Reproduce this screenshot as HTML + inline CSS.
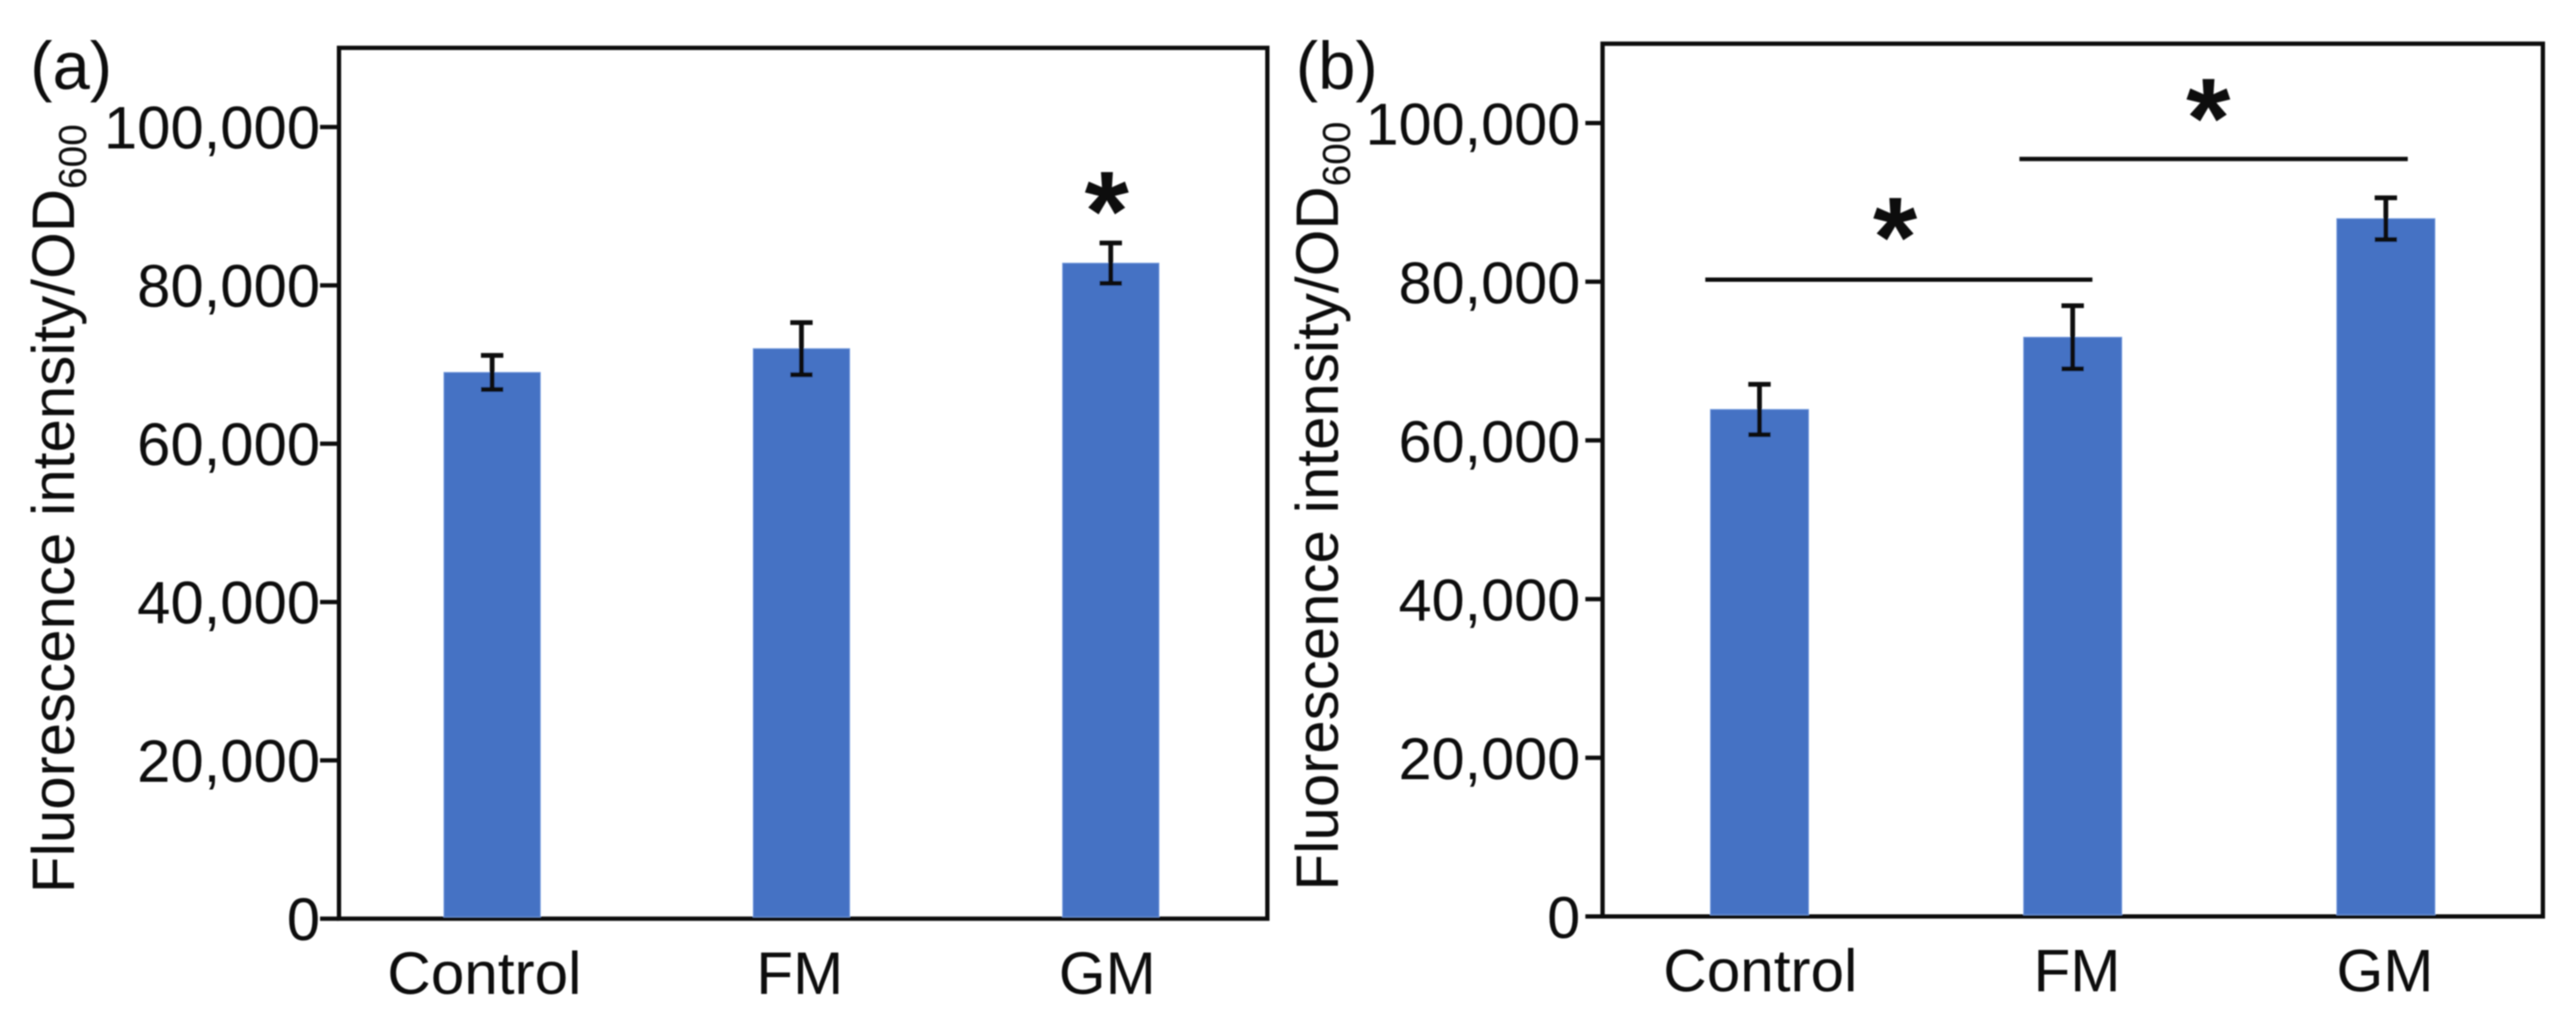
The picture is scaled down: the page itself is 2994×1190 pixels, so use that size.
<!DOCTYPE html>
<html lang="en">
<head>
<meta charset="utf-8">
<title>Fluorescence intensity bar charts</title>
<style>
html,body{margin:0;padding:0;background:#fff;}
body{width:2994px;height:1190px;overflow:hidden;}
svg{display:block;}
text{font-family:"Liberation Sans",Arial,sans-serif;fill:#0a0a0a;}
</style>
</head>
<body>
<svg id="figure" xmlns="http://www.w3.org/2000/svg" width="2994" height="1190" viewBox="0 0 2994 1190">
  <defs>
    <filter id="soft" x="-2%" y="-2%" width="104%" height="104%"><feGaussianBlur stdDeviation="0.7"/></filter>
  </defs>
  <rect x="0" y="0" width="2994" height="1190" fill="#ffffff"/>
  <g id="scene" filter="url(#soft)">
    <g id="panel-a">
      <text x="35" y="103" font-size="78">(a)</text>
      <text transform="translate(86,1038) rotate(-90)" font-size="69.8">Fluorescence intensity/OD<tspan font-size="45" dy="14">600</tspan></text>
    </g>
    <g id="panel-b">
      <text x="1506" y="103" font-size="78">(b)</text>
      <text transform="translate(1555,1035) rotate(-90)" font-size="69.8">Fluorescence intensity/OD<tspan font-size="45" dy="14">600</tspan></text>
    </g>
  </g>
</svg>
<script>
const categories = ['Control', 'FM', 'GM'];
const yTickValues = [0, 20000, 40000, 60000, 80000, 100000];
const yTickLabels = ['0', '20,000', '40,000', '60,000', '80,000', '100,000'];

const panelAValues = [69000, 72000, 82800];
const panelAErrors = [2150, 3300, 2550];
const panelAStarCategory = [1.987];
const panelAStarValue = [91500];

const panelBValues = [63900, 73000, 87950];
const panelBErrors = [3170, 3980, 2630];
const panelBStarCategory = [0.433, 1.433];
const panelBStarValue = [87750, 102750];
const panelBBracketFrom = [-0.173, 0.83];
const panelBBracketTo = [1.063, 2.07];
const panelBBracketValue = [80260, 95470];

const NS = 'http://www.w3.org/2000/svg';
const BLACK = '#0a0a0a';
const BAR_FILL = '#4472c4';
const BAR_EDGE = '#6f97dc';

function make(tag, parent, props) {
  const el = document.createElementNS(NS, tag);
  for (const k in props) el.setAttribute(k, props[k]);
  parent.appendChild(el);
  return el;
}

function drawPanel(cfg) {
  const g = document.getElementById(cfg.id);
  const x = cfg.x, y = cfg.y;

  const frame = make('rect', g, {x: cfg.left, y: y(110000), width: cfg.right - cfg.left, height: y(0) - y(110000), fill: 'none', stroke: BLACK, 'stroke-width': 5});
  
  

  categories.forEach(function (name, i) {
    const cx = x(i);
    const top = y(cfg.values[i]);
    const bar = make('rect', g, {x: cx - cfg.barWidth / 2, y: top, width: cfg.barWidth, height: y(0) - top - 2, fill: BAR_FILL, stroke: BAR_EDGE, 'stroke-width': 1});
    
    

    const hi = y(cfg.values[i] + cfg.errors[i]);
    const lo = y(cfg.values[i] - cfg.errors[i]);
    const stem = make('line', g, {x1: cx, x2: cx, y1: hi, y2: lo, stroke: BLACK, 'stroke-width': 5.5});
    
    
    const capTop = make('line', g, {x1: cx - 13, x2: cx + 13, y1: hi, y2: hi, stroke: BLACK, 'stroke-width': 5.5});
    
    
    const capBottom = make('line', g, {x1: cx - 13, x2: cx + 13, y1: lo, y2: lo, stroke: BLACK, 'stroke-width': 5.5});
    
    

    const label = make('text', g, {x: cx + cfg.labelOffset(i), y: cfg.labelY, 'font-size': 70, 'text-anchor': 'middle'});
    label.textContent = name;
    
    
  });

  yTickValues.forEach(function (v, i) {
    const ty = y(v);
    const tick = make('line', g, {x1: cfg.left - cfg.tickLen, x2: cfg.left, y1: ty, y2: ty, stroke: BLACK, 'stroke-width': 5});
    
    
    const label = make('text', g, {x: cfg.left - cfg.labelGap, y: ty + 25, 'font-size': cfg.tickFont, 'text-anchor': 'end'});
    label.textContent = yTickLabels[i];
    
    
  });

  cfg.starCategory.forEach(function (c, i) {
    const star = make('text', g, {x: x(c), y: y(cfg.starValue[i]) + 65, 'font-size': 132, 'font-weight': 'bold', 'text-anchor': 'middle'});
    star.textContent = '*';
    
    
  });
}

drawPanel({
  id: 'panel-a',
  left: 394, right: 1473,
  barWidth: 112, tickLen: 22, labelGap: 22, tickFont: 69.5, labelY: 1155,
  values: panelAValues, errors: panelAErrors,
  starCategory: panelAStarCategory, starValue: panelAStarValue,
  x: function (i) { return 572 + 359.5 * i; },
  y: function (v) { return 1067.6 - v * 0.0092; },
  labelOffset: function (i) { return i === 0 ? -9 : i === 1 ? -2 : -4; }
});

drawPanel({
  id: 'panel-b',
  left: 1862.6, right: 2955.5,
  barWidth: 114, tickLen: 20, labelGap: 26, tickFont: 69, labelY: 1152,
  values: panelBValues, errors: panelBErrors,
  starCategory: panelBStarCategory, starValue: panelBStarValue,
  x: function (i) { return 2045 + 364 * i; },
  y: function (v) { return 1065 - v * 0.00922; },
  labelOffset: function (i) { return i === 0 ? 1 : i === 1 ? 5 : -1; }
});

const panelBGroup = document.getElementById('panel-b');
panelBBracketValue.forEach(function (v, i) {
  const toX = function (c) { return 2045 + 364 * c; };
  const toY = function (val) { return 1065 - val * 0.00922; };
  const line = make('line', panelBGroup, {x1: toX(panelBBracketFrom[i]), x2: toX(panelBBracketTo[i]), y1: toY(v), y2: toY(v), stroke: BLACK, 'stroke-width': 5});
  
  
});
</script>
</body>
</html>
